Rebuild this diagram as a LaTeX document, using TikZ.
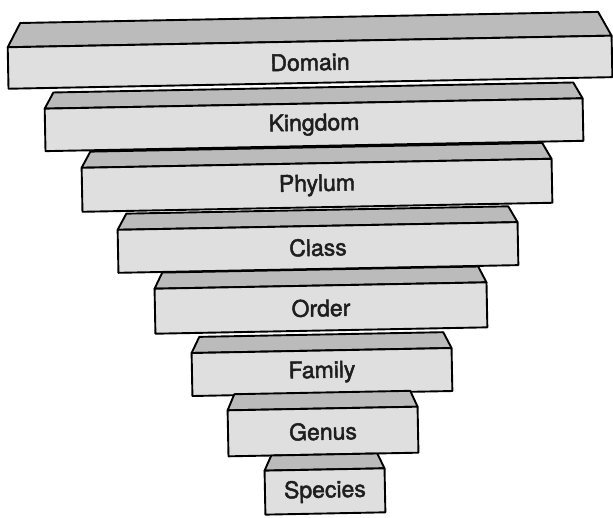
\documentclass[tikz,border=0pt]{standalone}
\usepackage{fontspec}
\setmainfont{TeX Gyre Heros}
\newfontfamily\slabfont[FakeBold=2]{TeX Gyre Heros}
\definecolor{frontgray}{HTML}{DFDFDF}
\definecolor{topgray}{HTML}{BBBBBB}
\definecolor{labelink}{HTML}{1E1E1E}
\tikzset{
  slabfront/.style={draw=black, line width=1.9pt, fill=frontgray, line join=round,
    inner sep=0pt, outer sep=0pt, text=labelink,
    font=\slabfont\fontsize{23}{27}\selectfont},
  slabtop/.style={draw=black, line width=1.9pt, fill=topgray, line join=round},
}
\begin{document}
\begin{tikzpicture}[x=1pt,y=1pt]
\useasboundingbox (0,0) rectangle (613,517);
\begin{scope}[rotate around={1.1:(306.5,258.5)}, transform shape]
\foreach \cx/\cy/\w/\h/\d/\i/\nm/\lab in {
  313.8/454.7/604/41.5/24/13/domain/Domain,
  316.6/392.1/538/42.5/16/9/kingdom/Kingdom,
  318.4/331.5/470/44/16/9/phylum/Phylum,
  318.2/269.3/400/43/16/9/class/Class,
  320.0/208.7/332/45/16/8/order/Order,
  319.8/144.7/260/43/16/8/family/Family,
  319.7/85.2/190/46/16/7/genus/Genus,
  320.5/25.2/120/44/15/7/species/Species}{
  \path[slabtop] (\cx-\w/2,\cy+\h/2) -- (\cx-\w/2+\i,\cy+\h/2+\d)
     -- (\cx+\w/2-\i,\cy+\h/2+\d) -- (\cx+\w/2,\cy+\h/2) -- cycle;
  \node[slabfront, minimum width=\w pt, minimum height=\h pt] (\nm) at (\cx,\cy) {\lab};
}
\end{scope}
\end{tikzpicture}
\end{document}
